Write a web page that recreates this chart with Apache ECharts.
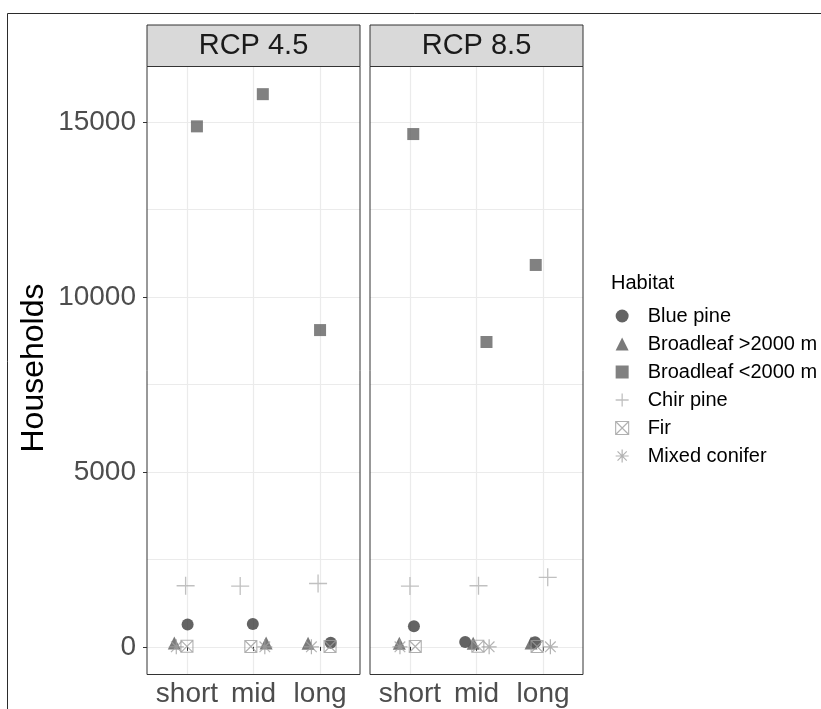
<!DOCTYPE html>
<html>
<head>
<meta charset="utf-8">
<script src="https://cdn.jsdelivr.net/npm/echarts@6/dist/echarts.min.js"></script>
<style>
html,body{margin:0;padding:0;background:#fff;}
#chart{width:821px;height:709px;}
</style>
</head>
<body>
<div id="chart"></div>
<script>
// ---- data ----
const categories = ['short', 'mid', 'long'];
const panels = ['RCP 4.5', 'RCP 8.5'];
const habitats = ['Blue pine', 'Broadleaf >2000 m', 'Broadleaf <2000 m', 'Chir pine', 'Fir', 'Mixed conifer'];
const yTicks = [0, 5000, 10000, 15000];

// Households per habitat (short, mid, long)
const bluePine45 = [640, 650, 120];
const bluePine85 = [590, 140, 130];
const broadHigh45 = [110, 110, 100];
const broadHigh85 = [100, 100, 110];
const broadLow45 = [14870, 15790, 9050];
const broadLow85 = [14650, 8710, 10910];
const chirPine45 = [1745, 1735, 1810];
const chirPine85 = [1735, 1745, 1985];
const fir45 = [15, 10, 10];
const fir85 = [10, 15, 10];
const mixedConifer45 = [0, 0, 0];
const mixedConifer85 = [0, 0, 0];

// horizontal jitter (category units) as placed in the figure
const bluePineJit45 = [0.01, -0.01, 0.16];
const bluePineJit85 = [0.06, -0.17, -0.12];
const broadHighJit45 = [-0.19, 0.19, -0.18];
const broadHighJit85 = [-0.16, -0.05, -0.18];
const broadLowJit45 = [0.15, 0.14, 0.0];
const broadLowJit85 = [0.05, 0.15, -0.11];
const chirPineJit45 = [-0.02, -0.2, -0.03];
const chirPineJit85 = [0.0, 0.03, 0.07];
const firJit45 = [0.0, -0.04, 0.15];
const firJit85 = [0.08, 0.02, -0.09];
const mixedConiferJit45 = [-0.16, 0.17, -0.13];
const mixedConiferJit85 = [-0.15, 0.19, 0.11];

const valuesByHabitat = [
  [bluePine45, bluePine85],
  [broadHigh45, broadHigh85],
  [broadLow45, broadLow85],
  [chirPine45, chirPine85],
  [fir45, fir85],
  [mixedConifer45, mixedConifer85]
];
const jitterByHabitat = [
  [bluePineJit45, bluePineJit85],
  [broadHighJit45, broadHighJit85],
  [broadLowJit45, broadLowJit85],
  [chirPineJit45, chirPineJit85],
  [firJit45, firJit85],
  [mixedConiferJit45, mixedConiferJit85]
];

// ---- styles ----
const FONT = 'Liberation Sans, Arial, sans-serif';
const PLUS = 'path://M0,5 L10,5 M5,0 L5,10';
const BOXX = 'path://M0,0 L10,0 L10,10 L0,10 Z M0,0 L10,10 M10,0 L0,10';
const STAR = 'path://M5,0 L5,10 M0,5 L10,5 M1.46,1.46 L8.54,8.54 M8.54,1.46 L1.46,8.54';
const styles = [
  { symbol: 'circle', size: 12, itemStyle: { color: '#3c3c3c', borderWidth: 0 } },
  { symbol: 'triangle', size: 13, itemStyle: { color: '#595959', borderWidth: 0 } },
  { symbol: 'rect', size: 12, itemStyle: { color: '#616161', borderWidth: 0 } },
  { symbol: PLUS, size: 18, itemStyle: { color: 'rgba(0,0,0,0)', borderColor: '#b0b0b0', borderWidth: 1.3 } },
  { symbol: BOXX, size: 12, itemStyle: { color: 'rgba(0,0,0,0)', borderColor: '#9c9c9c', borderWidth: 1.1 } },
  { symbol: STAR, size: 15, itemStyle: { color: 'rgba(0,0,0,0)', borderColor: '#a0a0a0', borderWidth: 1.2 } }
];

const gridDefs = [
  { left: 147, top: 66.5, width: 213, height: 608 },
  { left: 370, top: 66.5, width: 213, height: 608 }
];

const series = [];
habitats.forEach((h, hi) => {
  panels.forEach((p, pi) => {
    const vals = valuesByHabitat[hi][pi];
    const jit = jitterByHabitat[hi][pi];
    series.push({
      type: 'scatter',
      name: h,
      xAxisIndex: pi,
      yAxisIndex: pi * 2,
      symbol: styles[hi].symbol,
      symbolSize: styles[hi].size,
      itemStyle: styles[hi].itemStyle,
      clip: false,
      silent: true,
      emphasis: { disabled: true },
      data: categories.map((c, ci) => [ci + 1 + jit[ci], vals[ci]])
    });
  });
});

const xAxes = panels.map((p, pi) => ({
  type: 'value',
  gridIndex: pi,
  min: 0.4,
  max: 3.6,
  minInterval: 1,
  maxInterval: 1,
  axisLine: { show: false },
  axisTick: { show: true, length: 4, lineStyle: { color: '#333', width: 1 }, customValues: [1, 2, 3] },
  axisLabel: {
    show: true, customValues: [1, 2, 3], margin: 6,
    fontSize: 28, fontFamily: FONT, color: '#4d4d4d',
    formatter: v => { const i = Math.round(v) - 1; return Math.abs(v - (i + 1)) < 1e-6 && categories[i] ? categories[i] : ''; }
  },
  splitLine: { show: true, lineStyle: { color: '#ebebeb', width: 1.2 } }
}));

const yAxes = [];
panels.forEach((p, pi) => {
  // labelled axis (ticks/labels at major values)
  yAxes.push({
    type: 'value',
    gridIndex: pi,
    min: -790,
    max: 16580,
    minInterval: 2500,
    maxInterval: 2500,
    axisLine: { show: false },
    axisTick: { show: pi === 0, length: 4, lineStyle: { color: '#333', width: 1 }, customValues: yTicks },
    axisLabel: {
      show: pi === 0, customValues: yTicks, margin: 11,
      fontSize: 28, fontFamily: FONT, color: '#4d4d4d',
      formatter: v => (yTicks.indexOf(v) >= 0 ? String(v) : '')
    },
    splitLine: { show: false }
  });
  // gridline axis (major + minor lines every 2500)
  yAxes.push({
    type: 'value',
    gridIndex: pi,
    position: 'left',
    min: -790,
    max: 16580,
    minInterval: 2500,
    maxInterval: 2500,
    axisLine: { show: false },
    axisTick: { show: false },
    axisLabel: { show: false },
    splitLine: { show: true, lineStyle: { color: '#ebebeb', width: 1 } }
  });
});

const graphics = [
  { type: 'rect', silent: true, z: 0, shape: { x: 7.5, y: 13.5, width: 1000, height: 1000 }, style: { fill: 'none', stroke: '#2b2b2b', lineWidth: 1 } },
  { type: 'text', silent: true, x: 34, y: 368, rotation: Math.PI / 2, style: { text: 'Households', fontSize: 32, fontFamily: FONT, fill: '#000', align: 'center', verticalAlign: 'middle' } }
];
panels.forEach((p, pi) => {
  const g = gridDefs[pi];
  graphics.push({ type: 'rect', silent: true, z: 50, shape: { x: g.left, y: 25, width: g.width, height: g.top - 25 }, style: { fill: '#d9d9d9', stroke: '#333', lineWidth: 1 } });
  graphics.push({ type: 'rect', silent: true, z: 50, shape: { x: g.left, y: g.top, width: g.width, height: g.height }, style: { fill: 'none', stroke: '#333', lineWidth: 1 } });
  graphics.push({ type: 'text', silent: true, z: 51, x: g.left + g.width / 2, y: 46, style: { text: p, fontSize: 29, fontFamily: FONT, fill: '#1a1a1a', align: 'center', verticalAlign: 'middle' } });
});

const legendData = habitats.map((h, hi) => {
  const st = styles[hi];
  return { name: h, icon: st.symbol, itemStyle: Object.assign({}, st.itemStyle) };
});

const option = {
  animation: false,
  backgroundColor: '#fff',
  title: {
    text: 'Habitat', left: 611, top: 273, padding: 0,
    textStyle: { fontSize: 20, fontWeight: 'normal', fontFamily: FONT, color: '#000' }
  },
  legend: {
    orient: 'vertical', left: 615, top: 306, padding: 0,
    itemWidth: 13, itemHeight: 13, itemGap: 8,
    selectedMode: false,
    data: legendData,
    textStyle: { fontSize: 20, fontFamily: FONT, color: '#000', padding: [0, 0, 0, 14] }
  },
  grid: gridDefs.map(g => Object.assign({ show: false }, g)),
  xAxis: xAxes,
  yAxis: yAxes,
  series: series,
  graphic: graphics
};

const chart = echarts.init(document.getElementById('chart'), null, { renderer: 'canvas' });
chart.setOption(option);
</script>
</body>
</html>
